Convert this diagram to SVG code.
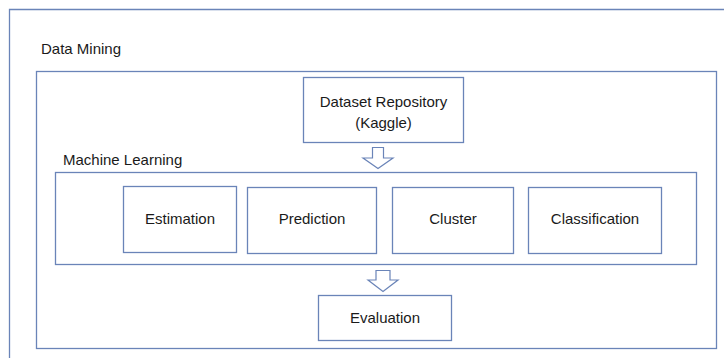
<svg xmlns="http://www.w3.org/2000/svg" width="724" height="358" viewBox="0 0 724 358">
<style>
.box{fill:#fff;stroke:#6a84b8;stroke-width:1.3}
.frame{fill:none;stroke:#6a84b8;stroke-width:1.3}
.arr{fill:#fff;stroke:#6a84b8;stroke-width:1.2;stroke-linejoin:miter}
text{font-family:"Liberation Sans",Arial,sans-serif;font-size:15px;fill:#1a1a1a}
.c{text-anchor:middle}
</style>
<rect width="724" height="358" fill="#fff"/>
<g id="data-mining">
<path class="frame" d="M9.5 358 V9.5 H724"/>
<text x="41" y="54">Data Mining</text>
<rect class="frame" x="36.5" y="71.5" width="680" height="277"/>
</g>
<g id="dataset">
<rect class="box" x="303.5" y="77.5" width="160" height="65"/>
<text class="c" x="383.5" y="107">Dataset Repository</text>
<text class="c" x="383.5" y="128">(Kaggle)</text>
</g>
<g id="machine-learning">
<text x="63" y="165">Machine Learning</text>
<rect class="frame" x="55.5" y="172.5" width="641" height="92"/>
</g>
<g id="estimation">
<rect class="box" x="123.5" y="186.5" width="113" height="66"/>
<text class="c" x="180" y="224">Estimation</text>
</g>
<g id="prediction">
<rect class="box" x="247.5" y="187.5" width="129" height="66"/>
<text class="c" x="312" y="224">Prediction</text>
</g>
<g id="cluster">
<rect class="box" x="392.5" y="187.5" width="121" height="66"/>
<text class="c" x="453" y="224">Cluster</text>
</g>
<g id="classification">
<rect class="box" x="528.5" y="187.5" width="133" height="66"/>
<text class="c" x="595" y="224">Classification</text>
</g>
<g id="evaluation">
<rect class="box" x="318.5" y="295.5" width="133" height="45"/>
<text class="c" x="385" y="323">Evaluation</text>
</g>
<g id="connectors">
<path class="arr" d="M372.5 147.5 H383.5 V158 H393 L378 168.5 L363 158 H372.5 Z"/>
<path class="arr" d="M376 270.5 H390 V280 H398 L383 291.5 L368 280 H376 Z"/>
</g>
</svg>
